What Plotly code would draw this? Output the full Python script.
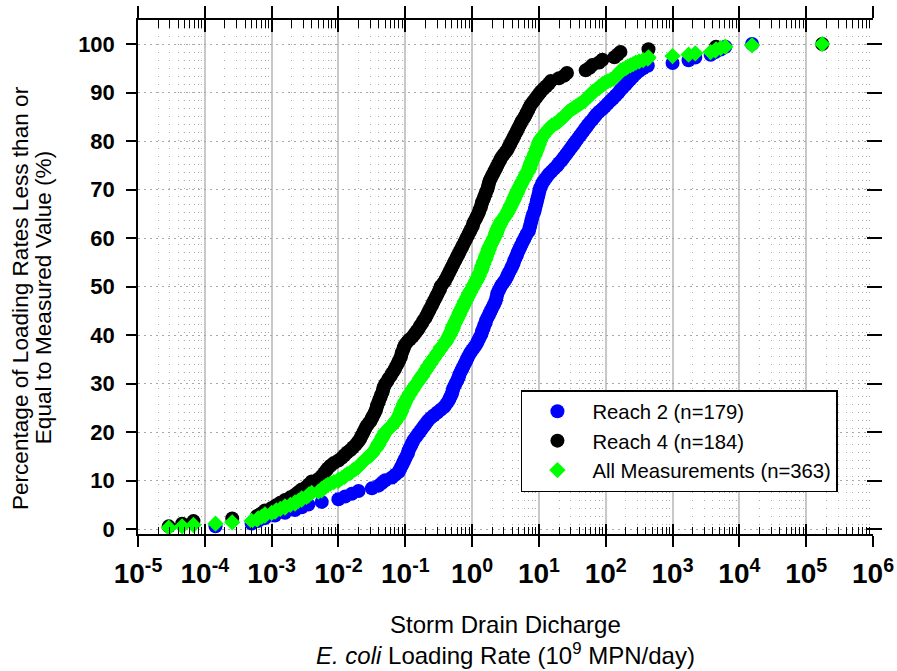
import plotly.graph_objects as go

# log10 of loading rate (10^9 MPN/day), sorted ascending
reach2_log10 = [
    -3.84, -3.30, -3.20, -3.10, -2.95, -2.80, -2.65, -2.55, -2.45, -2.25,
    -2.00, -1.90, -1.80, -1.70, -1.50, -1.40, -1.35, -1.30, -1.20, -1.15,
    -1.10, -1.08, -1.06, -1.04, -1.02, -1.00, -0.98, -0.96, -0.95, -0.93,
    -0.91, -0.89, -0.87, -0.84, -0.81, -0.78, -0.75, -0.72, -0.69, -0.66,
    -0.62, -0.57, -0.52, -0.47, -0.42, -0.39, -0.36, -0.34, -0.32, -0.30,
    -0.29, -0.28, -0.26, -0.24, -0.22, -0.20, -0.19, -0.17, -0.15, -0.13,
    -0.11, -0.09, -0.07, -0.05, -0.03, 0.00, 0.03, 0.06, 0.08, 0.10,
    0.12, 0.14, 0.15, 0.17, 0.18, 0.20, 0.21, 0.23, 0.25, 0.27,
    0.29, 0.31, 0.33, 0.35, 0.36, 0.37, 0.38, 0.40, 0.42, 0.44,
    0.47, 0.50, 0.52, 0.54, 0.56, 0.58, 0.60, 0.62, 0.63, 0.65,
    0.67, 0.68, 0.70, 0.72, 0.74, 0.76, 0.78, 0.80, 0.82, 0.85,
    0.86, 0.87, 0.88, 0.89, 0.90, 0.91, 0.93, 0.94, 0.95, 0.96,
    0.97, 0.98, 0.99, 1.00, 1.01, 1.02, 1.04, 1.06, 1.09, 1.12,
    1.15, 1.19, 1.23, 1.27, 1.30, 1.34, 1.37, 1.40, 1.43, 1.46,
    1.49, 1.52, 1.55, 1.58, 1.61, 1.64, 1.67, 1.70, 1.73, 1.76,
    1.80, 1.83, 1.86, 1.90, 1.95, 1.99, 2.03, 2.07, 2.11, 2.15,
    2.19, 2.22, 2.26, 2.30, 2.33, 2.37, 2.41, 2.45, 2.50, 2.56,
    2.63, 3.00, 3.24, 3.34, 3.57, 3.64, 3.72, 3.79, 4.19,
]

reach4_log10 = [
    -4.54, -4.34, -4.17, -3.59, -3.22, -3.15, -3.10, -3.00, -2.93, -2.87,
    -2.80, -2.72, -2.65, -2.60, -2.55, -2.48, -2.44, -2.40, -2.30, -2.25,
    -2.22, -2.19, -2.16, -2.12, -2.07, -2.00, -1.95, -1.91, -1.87, -1.82,
    -1.78, -1.74, -1.71, -1.68, -1.66, -1.64, -1.62, -1.60, -1.58, -1.55,
    -1.52, -1.50, -1.48, -1.46, -1.44, -1.43, -1.42, -1.40, -1.39, -1.37,
    -1.36, -1.34, -1.33, -1.32, -1.30, -1.27, -1.25, -1.22, -1.20, -1.17,
    -1.15, -1.13, -1.11, -1.09, -1.07, -1.06, -1.05, -1.03, -1.02, -1.00,
    -0.97, -0.93, -0.89, -0.86, -0.83, -0.80, -0.78, -0.75, -0.73, -0.70,
    -0.68, -0.66, -0.64, -0.62, -0.60, -0.58, -0.56, -0.54, -0.52, -0.50,
    -0.48, -0.47, -0.44, -0.41, -0.39, -0.37, -0.35, -0.33, -0.31, -0.29,
    -0.27, -0.25, -0.23, -0.21, -0.19, -0.17, -0.15, -0.13, -0.11, -0.09,
    -0.07, -0.05, -0.03, -0.01, 0.01, 0.02, 0.04, 0.06, 0.08, 0.10,
    0.11, 0.13, 0.14, 0.15, 0.17, 0.18, 0.20, 0.21, 0.23, 0.24,
    0.25, 0.26, 0.28, 0.30, 0.32, 0.34, 0.36, 0.38, 0.40, 0.42,
    0.44, 0.47, 0.50, 0.53, 0.55, 0.57, 0.59, 0.61, 0.63, 0.65,
    0.67, 0.69, 0.71, 0.73, 0.75, 0.78, 0.80, 0.82, 0.84, 0.86,
    0.88, 0.91, 0.94, 0.97, 1.00, 1.03, 1.07, 1.11, 1.15, 1.18,
    1.30, 1.38, 1.42, 1.70, 1.76, 1.80, 1.90, 1.95, 2.13, 2.18,
    2.22, 2.64, 3.65, 5.24,
]

series_names = ["Reach 2 (n=179)", "Reach 4 (n=184)", "All Measurements (n=363)"]
x_tick_exponents = [-5, -4, -3, -2, -1, 0, 1, 2, 3, 4, 5, 6]
y_tick_values = [0, 10, 20, 30, 40, 50, 60, 70, 80, 90, 100]


def ecdf(log_vals):
    vals = sorted(log_vals)
    n = len(vals)
    xs = [10 ** v for v in vals]
    ys = [100.0 * (i + 1) / n for i in range(n)]
    return xs, ys


x2, y2 = ecdf(reach2_log10)
x4, y4 = ecdf(reach4_log10)
xa, ya = ecdf(reach2_log10 + reach4_log10)

FONT = "Arial, 'Liberation Sans', sans-serif"

fig = go.Figure()
fig.add_trace(go.Scatter(x=x2, y=y2, mode="markers", name=series_names[0],
                         marker=dict(symbol="circle", size=14, color="#0000FF", line=dict(width=0))))
fig.add_trace(go.Scatter(x=x4, y=y4, mode="markers", name=series_names[1],
                         marker=dict(symbol="circle", size=14, color="#000000", line=dict(width=0))))
fig.add_trace(go.Scatter(x=xa, y=ya, mode="markers", name=series_names[2],
                         marker=dict(symbol="diamond", size=12.5, color="#00FF00", line=dict(width=0))))

# dummy traces to activate overlay axes (for crossing tick marks)
for xa_name, ya_name in [("x2", "y"), ("x3", "y"), ("x4", "y"), ("x", "y2")]:
    fig.add_trace(go.Scatter(x=[None], y=[None], xaxis=xa_name, yaxis=ya_name,
                             showlegend=False, hoverinfo="skip", mode="markers"))

decades = [10.0 ** e for e in x_tick_exponents]
minor_vals = [m * 10.0 ** e for e in x_tick_exponents[:-1] for m in range(2, 10)]
xticktext = ["<b>10<sup>%d</sup></b>" % e for e in x_tick_exponents]
xrange_log = [-5, 6]
yrange = [-1.03, 104.95]

common_x = dict(type="log", range=xrange_log, tickmode="array", tickvals=decades,
                automargin=False, tickcolor="black", tickwidth=1.5)

fig.update_layout(
    width=897, height=671,
    margin=dict(l=138, r=24, t=20, b=137),
    paper_bgcolor="white", plot_bgcolor="white",
    font=dict(family=FONT, color="black"),
    showlegend=True,
    legend=dict(x=0.521, y=0.28, xanchor="left", yanchor="top",
                bgcolor="white", bordercolor="black", borderwidth=1.5,
                font=dict(size=20.3, family=FONT), itemwidth=60,
                entrywidth=250, entrywidthmode="pixels",
                tracegroupgap=0),
    xaxis=dict(**common_x, ticks="outside", ticklen=11,
               ticktext=xticktext, showticklabels=True,
               tickfont=dict(size=28, family=FONT),
               ticklabelstandoff=3,
               showline=True, linecolor="black", linewidth=1.5, mirror=False,
               showgrid=True, gridcolor="#c8c8c8", gridwidth=1.5,
               minor=dict(tickmode="array", tickvals=minor_vals, ticks="inside", ticklen=7,
                          tickcolor="black", tickwidth=1.2, showgrid=True,
                          gridcolor="#a8a8a8", gridwidth=1, griddash="1px,7px"),
               zeroline=False),
    xaxis2=dict(**common_x, overlaying="x", anchor="y", side="bottom", ticks="inside", ticklen=10,
                showticklabels=False, showgrid=False, showline=False, zeroline=False),
    xaxis3=dict(**common_x, overlaying="x", anchor="y", side="top", ticks="outside", ticklen=12,
                showticklabels=False, showgrid=False, showline=True, linecolor="black", linewidth=1.5,
                minor=dict(tickmode="array", tickvals=minor_vals, ticks="inside", ticklen=8,
                           tickcolor="black", tickwidth=1.2),
                zeroline=False),
    xaxis4=dict(**common_x, overlaying="x", anchor="y", side="top", ticks="inside", ticklen=12,
                showticklabels=False, showgrid=False, showline=False, zeroline=False),
    yaxis=dict(range=yrange, tickmode="array", tickvals=y_tick_values,
               ticks="outside", ticklen=10, tickcolor="black", tickwidth=1.5,
               tickfont=dict(size=22, family=FONT, weight="bold"),
               ticklabelstandoff=7,
               showline=True, linecolor="black", linewidth=1.5,
               showgrid=True, gridcolor="#a8a8a8", gridwidth=1, griddash="2px,4px",
               zeroline=False, automargin=False),
    yaxis2=dict(range=yrange, overlaying="y", side="right", anchor="free", position=1 - 7 / 735,
                tickmode="array", tickvals=y_tick_values, ticks="outside", ticklen=15,
                tickcolor="black", tickwidth=1.5,
                showticklabels=False, showgrid=False, showline=False, zeroline=False, automargin=False),
)

# axis titles as annotations (two-line titles)
fig.add_annotation(text="Percentage of Loading Rates Less than or", xref="paper", yref="paper",
                   x=-0.1605, y=0.459, textangle=-90, showarrow=False,
                   xanchor="center", yanchor="middle", font=dict(size=22.6, family=FONT))
fig.add_annotation(text="Equal to Measured Value (%)", xref="paper", yref="paper",
                   x=-0.129, y=0.459, textangle=-90, showarrow=False,
                   xanchor="center", yanchor="middle", font=dict(size=22.6, family=FONT))
fig.add_annotation(text="Storm Drain Dicharge<br><i>E. coli</i> Loading Rate (10<sup>9</sup> MPN/day)",
                   xref="paper", yref="paper", x=0.5, y=-0.2062, showarrow=False,
                   xanchor="center", yanchor="middle", font=dict(size=24, family=FONT))

fig.write_html("out.html")
